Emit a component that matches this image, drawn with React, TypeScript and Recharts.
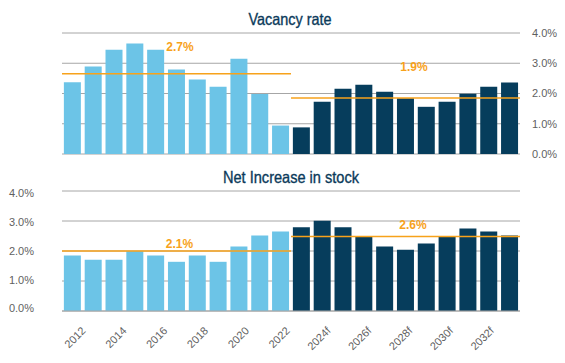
import React from 'react';
import { BarChart, Bar, Cell, XAxis, YAxis, CartesianGrid, ReferenceLine } from 'recharts';

const years = [
  '2012', '2013', '2014', '2015', '2016', '2017', '2018', '2019', '2020', '2021', '2022',
  '2023f', '2024f', '2025f', '2026f', '2027f', '2028f', '2029f', '2030f', '2031f', '2032f', '2033f',
];
const vacancyRate = [
  2.37, 2.89, 3.45, 3.65, 3.45, 2.79, 2.46, 2.22, 3.15, 1.98, 0.94,
  0.88, 1.73, 2.16, 2.29, 2.06, 1.84, 1.56, 1.73, 1.99, 2.22, 2.36,
];
const stockIncrease = [
  1.85, 1.71, 1.71, 2.0, 1.85, 1.64, 1.85, 1.64, 2.15, 2.52, 2.65,
  2.79, 3.01, 2.79, 2.48, 2.15, 2.04, 2.25, 2.48, 2.75, 2.65, 2.52,
];
const percentTicks = [0, 1, 2, 3, 4];
const vacancyAverages = [2.65, 1.85];
const vacancyAverageLabels = ['2.7%', '1.9%'];
const stockAverages = [2.0, 2.48];
const stockAverageLabels = ['2.1%', '2.6%'];
const titles = ['Vacancy rate', 'Net Increase in stock'];

const LIGHT = '#6CC4E7';
const DARK = '#063D5C';
const ORANGE = '#F7A21B';
const GRID = '#A6A6A6';
const TITLE = '#0B3A5A';
const AXIS_TEXT = '#5F5F5F';
const FONT = '"Liberation Sans", Arial, sans-serif';

const isForecast = (y: string) => y.endsWith('f');
const firstForecast = years.find(isForecast) as string;
const lastHistoric = years[years.indexOf(firstForecast) - 1];

const data = years.map((year, i) => ({
  year,
  vacancy: vacancyRate[i],
  stock: stockIncrease[i],
}));

const fmt = (v: number) => `${v.toFixed(1)}%`;

const RightTick = (props: any) => {
  const { x, y, payload } = props;
  return (
    <text x={x} y={y} dy={3.8} textAnchor="start" fill={AXIS_TEXT} fontSize={11} fontFamily={FONT}>
      {fmt(payload.value)}
    </text>
  );
};

const LeftTick = (props: any) => {
  const { x, y, payload } = props;
  return (
    <text x={x} y={y} dy={1.3 + payload.value * 1.25} textAnchor="end" fill={AXIS_TEXT} fontSize={11} fontFamily={FONT}>
      {fmt(payload.value)}
    </text>
  );
};

const YearTick = (props: any) => {
  const { x, y, payload } = props;
  const idx = years.indexOf(payload.value);
  const ax = x + 14 - idx * 0.4;
  const ay = y + 20.4;
  return (
    <text
      x={ax}
      y={ay}
      textAnchor="end"
      fill={AXIS_TEXT}
      fontSize={11}
      fontFamily={FONT}
      transform={`rotate(-45 ${ax} ${ay})`}
    >
      {payload.value}
    </text>
  );
};

const avgLabel = (text: string, dx: number, dy: number) => (props: any) => {
  const vb = props.viewBox || { x: 0, y: 0, width: 0 };
  return (
    <text
      x={vb.x + vb.width / 2 + dx}
      y={vb.y + dy}
      textAnchor="middle"
      fill={ORANGE}
      fontSize={12}
      fontWeight={700}
      fontFamily={FONT}
    >
      {text}
    </text>
  );
};

const Title = ({ text, x, y, w }: { text: string; x: number; y: number; w: number }) => (
  <text
    x={x}
    y={y}
    textAnchor="middle"
    fill={TITLE}
    stroke={TITLE}
    strokeWidth={0.35}
    fontSize={16.5}
    fontFamily={FONT}
    textLength={w}
    lengthAdjust="spacingAndGlyphs"
  >
    {text}
  </text>
);

export default function App() {
  return (
    <div style={{ position: 'absolute', left: 0, top: 0, width: 565, height: 363, background: '#fff' }}>
      <div style={{ position: 'absolute', left: 0, top: 0 }}>
        <BarChart
          width={565}
          height={165}
          data={data}
          margin={{ top: 33, right: 0, left: 62, bottom: 11 }}
          barCategoryGap="9%"
        >
          <CartesianGrid vertical={false} stroke={GRID} />
          <XAxis dataKey="year" hide />
          <YAxis
            orientation="right"
            width={45}
            domain={[0, 4]}
            ticks={percentTicks}
            axisLine={false}
            tickLine={false}
            tickSize={0}
            tickMargin={12}
            tick={<RightTick />}
            interval={0}
          />
          <Bar dataKey="vacancy" isAnimationActive={false}>
            {data.map((d) => (
              <Cell key={d.year} fill={isForecast(d.year) ? DARK : LIGHT} />
            ))}
          </Bar>
          <ReferenceLine
            segment={[
              { x: years[0], y: vacancyAverages[0] },
              { x: firstForecast, y: vacancyAverages[0] },
            ]}
            position="start"
            stroke={ORANGE}
            strokeWidth={1.5}
            ifOverflow="extendDomain"
            label={avgLabel(vacancyAverageLabels[0], 3.5, -22.5)}
          />
          <ReferenceLine
            segment={[
              { x: lastHistoric, y: vacancyAverages[1] },
              { x: years[years.length - 1], y: vacancyAverages[1] },
            ]}
            position="end"
            stroke={ORANGE}
            strokeWidth={1.5}
            ifOverflow="extendDomain"
            label={avgLabel(vacancyAverageLabels[1], 8.5, -27.3)}
          />
        </BarChart>
      </div>
      <div style={{ position: 'absolute', left: 0, top: 165 }}>
        <BarChart
          width={565}
          height={198}
          data={data}
          margin={{ top: 26, right: 45, left: 0, bottom: 0 }}
          barCategoryGap="9%"
        >
          <CartesianGrid vertical={false} stroke={GRID} />
          <XAxis
            dataKey="year"
            height={52}
            interval={1}
            tickLine={false}
            axisLine={{ stroke: GRID }}
            tickSize={0}
            tickMargin={0}
            tick={<YearTick />}
          />
          <YAxis
            width={62}
            domain={[0, 4]}
            ticks={percentTicks}
            axisLine={false}
            tickLine={false}
            tickSize={0}
            tickMargin={28}
            tick={<LeftTick />}
            interval={0}
          />
          <Bar dataKey="stock" isAnimationActive={false}>
            {data.map((d) => (
              <Cell key={d.year} fill={isForecast(d.year) ? DARK : LIGHT} />
            ))}
          </Bar>
          <ReferenceLine
            segment={[
              { x: years[0], y: stockAverages[0] },
              { x: firstForecast, y: stockAverages[0] },
            ]}
            position="start"
            stroke={ORANGE}
            strokeWidth={1.5}
            ifOverflow="extendDomain"
            label={avgLabel(stockAverageLabels[0], 3, -3)}
          />
          <ReferenceLine
            segment={[
              { x: lastHistoric, y: stockAverages[1] },
              { x: years[years.length - 1], y: stockAverages[1] },
            ]}
            position="end"
            stroke={ORANGE}
            strokeWidth={1.5}
            ifOverflow="extendDomain"
            label={avgLabel(stockAverageLabels[1], 7.5, -8)}
          />
        </BarChart>
      </div>
      <svg width={565} height={363} style={{ position: 'absolute', left: 0, top: 0, pointerEvents: 'none' }}>
        <Title text={titles[0]} x={290} y={25} w={83} />
        <Title text={titles[1]} x={291} y={183} w={136} />
      </svg>
    </div>
  );
}
